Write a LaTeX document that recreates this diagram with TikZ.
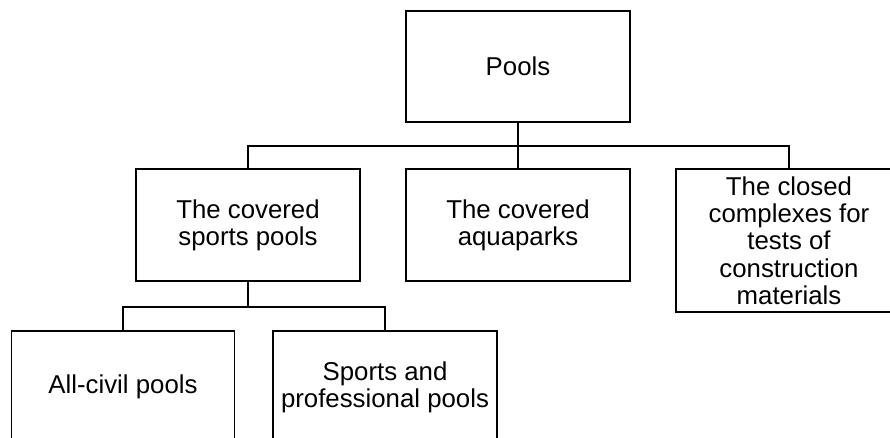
\documentclass[tikz,border=0pt]{standalone}
\usepackage{fontspec}
\setmainfont{Liberation Sans}
\begin{document}
\begin{tikzpicture}[x=1pt,y=-1pt,
  box/.style={draw,line width=1.7pt,minimum width=224pt,minimum height=112pt,inner sep=0pt,align=center,
    font=\fontsize{25.8}{27.3}\selectfont},
  conn/.style={line width=1.7pt}]
\clip (0,0) rectangle (890,438);
\fill[white] (0,0) rectangle (890,438);
\node[box,minimum height=111pt] (pools) at (518,66.5) {Pools};
\node[box] (cov) at (248,225) {The covered\\sports pools};
\node[box] (aqua) at (518,225) {The covered\\aquaparks};
\node[box,minimum width=226pt,minimum height=143pt] (closed) at (789,240.5) {The closed\\complexes for\\tests of\\construction\\materials};
\node[box,minimum width=223pt] (civil) at (123,387) {All-civil pools};
\node[box] (sport) at (385,387) {Sports and\\professional pools};
\coordinate (j1) at (518,146);
\coordinate (j2) at (248,307);
\draw[conn] (pools.south) -- (j1);
\draw[conn] (cov.north) |- (j1) -| (closed.north);
\draw[conn] (j1) -- (aqua.north);
\draw[conn] (cov.south) -- (j2);
\draw[conn] (civil.north) |- (j2) -| (sport.north);
\end{tikzpicture}
\end{document}
